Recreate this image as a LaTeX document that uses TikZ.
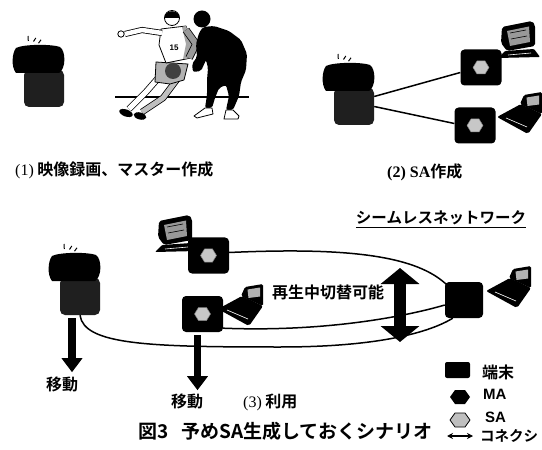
\documentclass[tikz,border=0pt]{standalone}
\usepackage{fontspec}
\newfontfamily\jp{Noto Sans CJK JP}[BoldFont={Noto Sans CJK JP Bold}]
\newfontfamily\tms{Liberation Serif}
\newfontfamily\arl{Liberation Sans}
\usetikzlibrary{arrows.meta,calc}
\pgfdeclarelayer{background}
\pgfsetlayers{background,main}

\tikzset{
  jplbl/.style={font=\jp\bfseries\fontsize{16bp}{18bp}\selectfont, inner sep=0pt},
  netlbl/.style={font=\jp\bfseries\fontsize{15.5bp}{17bp}\selectfont, inner sep=0pt},
  keylbl/.style={font=\jp\bfseries\fontsize{14.5bp}{16bp}\selectfont, inner sep=0pt},
  captionlbl/.style={font=\jp\bfseries\fontsize{19bp}{21bp}\selectfont, inner sep=0pt},
  latinlbl/.style={font=\arl\bfseries\fontsize{15bp}{17bp}\selectfont, inner sep=0pt},
  conn/.style={line width=1.5bp},
  term/.style={fill=black, rounded corners=4bp, minimum width=41bp, minimum height=36bp, inner sep=0pt},
  devbody/.style={fill=black!88, rounded corners=5bp, minimum width=40bp, minimum height=37bp, inner sep=0pt},
  movearr/.style={line width=7.5bp, line cap=butt, -{Triangle[width=20bp,length=14bp]}},
  swarr/.style={line width=12bp, line cap=butt, {Triangle[width=38bp,length=16bp]}-{Triangle[width=38bp,length=16bp]}},
  % stand-alone recorder: black head on a dark body
  camdev/.pic={
    \node[devbody] (-body) at (32,43.5) {};
    \fill[black] (4,3) .. controls (0,8) and (-1,22) .. (4,28) -- (14,28) -- (47,28)
       .. controls (54,24) and (54,6) .. (48,2) .. controls (40,-1) and (12,-1) .. cycle;
    \draw[line width=1bp] (16,-9) -- (16.3,-4) (21.5,-3.5) -- (23.8,-7) (26.5,-1.8) -- (29,-5.2);
  },
  % stream agent marker
  sahex/.pic={
    \filldraw[fill=black!22, draw=black!50, line width=0.5bp]
      (-8,0) -- (-4,-6.5) -- (4,-6.5) -- (8,0) -- (4,6.5) -- (-4,6.5) -- cycle;
  },
  % desktop computer
  desktop/.pic={
    \fill[black, rounded corners=2bp] (4,6) -- (34,0) -- (37,4) -- (37,25) -- (9,30) -- (3,22) -- cycle;
    \fill[black!40] (9,10) -- (31,5.5) -- (32,21) -- (12,25) -- cycle;
    \draw[black, line width=0.6bp] (12,12) -- (28,9) (13,18) -- (29,15);
    \fill[black, rounded corners=1bp] (0,37) -- (7,30) -- (36,28) -- (42,36) -- cycle;
    \draw[white, line width=0.6bp] (10,34) -- (33,32);
  },
  % notebook computer
  laptop/.pic={
    \fill[black, rounded corners=1.5bp] (23,11) -- (27,2) -- (45,-1) -- (45,21) -- cycle;
    \fill[black!30] (29.5,4.5) -- (42,2.5) -- (42,11.5) -- (30.5,13) -- cycle;
    \fill[black, rounded corners=2bp] (0,24) -- (24,11) -- (45,21) -- (31,41) -- cycle;
    \draw[white, line width=0.6bp] (9,25) -- (30,34);
  },
}

\begin{document}
\begin{tikzpicture}[x=1bp, y=-1bp, line join=round]
\useasboundingbox (0,0) rectangle (542,450);
\begin{pgfonlayer}{background}
  \fill[white] (0,0) rectangle (542,450);
\end{pgfonlayer}

% ---------- (1) recording ----------
\pic (dev1) at (12,45) {camdev};

% court line
\draw[line width=1.3bp] (115,97) -- (249,97);
% dribbling player
\draw[double=white, double distance=5bp, line width=0.8bp] (160,76) -- (146,92) -- (129,109);
\draw[double=black!25, double distance=5bp, line width=0.8bp] (178,78) -- (163,98) -- (142,112);
\fill[rotate around={-20:(126,113)}] (126,113) ellipse (7 and 3.5);
\fill[rotate around={-15:(140,116)}] (140,116) ellipse (6.5 and 3.5);
\filldraw[fill=black!30, line width=0.8bp] (156,62) -- (188,64) -- (184,80) -- (170,84) -- (155,82) -- cycle;
\fill[black!75] (173,71) circle (8);
\filldraw[fill=white, line width=0.8bp] (161,29) -- (186,26) -- (192,42) -- (191,58) -- (166,63) -- (159,45) -- cycle;
\fill[black!35] (182,27) -- (186,26) -- (192,42) -- (191,58) -- (183,59) -- (186,44) -- cycle;
\draw[double=black!40, double distance=6bp, line width=0.8bp] (186,30) -- (196,44) -- (189,58);
\draw[double=white, double distance=4.5bp, line width=0.8bp] (162,33) -- (142,30) -- (125,34);
\filldraw[fill=white, line width=0.8bp] (121,34) circle (3.2);
\filldraw[fill=white, line width=0.8bp] (172,18) circle (7.5);
\fill (164.5,18) .. controls (164,9) and (180,9) .. (179.5,18) -- cycle;
\node[font=\arl\bfseries\fontsize{8bp}{8bp}\selectfont, inner sep=0pt] (jersey) at (174,48) {15};
% defending player
\fill[black, rounded corners=2bp] (203,27) -- (214,26) -- (229,31) -- (241,40) -- (247,54) -- (246,70)
  -- (241,82) -- (239,96) -- (233,110) -- (226,110) -- (229,96) -- (226,85) -- (219,88) -- (215,98)
  -- (212,108) -- (205,108) -- (207,95) -- (207,80) -- (208,68) -- (206,60) -- (201,71) -- (193,72)
  -- (192,64) -- (197,57) -- (196,44) -- (199,33) -- cycle;
\fill (202,19) circle (8.5);
\filldraw[fill=white, line width=0.8bp] (205,108) -- (212,108) -- (213,114) -- (197,118) -- (194,116) -- cycle;
\filldraw[fill=white, line width=0.8bp] (226,110) -- (233,110) -- (239,116) -- (238,119) -- (224,119) -- cycle;

\node[jplbl, anchor=west] (step1) at (15,170) {{\tms\mdseries (1)} 映像録画、マスター作成};

% ---------- (2) SA creation ----------
\pic (dev2) at (322,63) {camdev};
\pic at (498,21) {desktop};
\pic at (497,93) {laptop};
\node[term] (t2a) at (481,67.5) {};
\node[term] (t2b) at (475,125.5) {};
\pic at (t2a) {sahex};
\pic at (t2b) {sahex};
\begin{pgfonlayer}{background}
  \draw[conn] ([yshift=10bp]dev2-body.east) -- ([yshift=-5bp]t2a.west);
  \draw[conn] (dev2-body.east) -- ([yshift=2bp]t2b.west);
\end{pgfonlayer}
\node[jplbl, anchor=west] (step2) at (387,172) {{\tms (2) SA}作成};

% ---------- (3) use ----------
\node[netlbl] (net) at (441,218) {シームレスネットワーク};
\draw[line width=1bp] ([yshift=-2bp]net.south west) -- ([yshift=-2bp]net.south east);

\pic (dev3) at (48,253) {camdev};
\pic at (155,215) {desktop};
\pic at (218,285) {laptop};
\pic at (486,267) {laptop};
\node[term] (t3a) at (208.5,255.5) {};
\node[term] (t3b) at (202.5,314) {};
\node[term, minimum width=38bp] (t3c) at (464,300) {};
\pic at (t3a) {sahex};
\pic at (t3b) {sahex};

\begin{pgfonlayer}{background}
  \draw[conn] ([yshift=3bp]t3a.east) .. controls (350,247) and (418,256) .. ([xshift=3bp,yshift=-4bp]t3c.north west);
  \draw[conn] ([yshift=4bp]t3b.south east) .. controls (320,332) and (400,318) .. ([yshift=-5bp]t3c.west);
  \draw[conn] (dev3-body.south) .. controls (84,345) and (150,347) .. (280,347)
     .. controls (380,347) and (430,332) .. ([xshift=8bp]t3c.south west);
\end{pgfonlayer}

\coordinate (swtop) at (400,268);
\coordinate (swbot) at (400,342);
\draw[swarr] (swtop) -- (swbot);
\node[jplbl, anchor=west] (switch) at (272,292) {再生中切替可能};

\node[jplbl] (mv1) at (62,384) {移動};
\node[jplbl] (mv2) at (187,401) {移動};
\draw[movearr] ([xshift=-8bp,yshift=-3bp]dev3-body.south) coordinate (m1) -- ([yshift=4bp]m1 |- mv1.north);
\draw[movearr] ([xshift=-5bp,yshift=-3bp]t3b.south) coordinate (m2) -- ([yshift=3bp]m2 |- mv2.north);

\node[jplbl, anchor=west] (step3) at (243,402) {{\tms\mdseries (3)} 利用};

% ---------- caption ----------
\node[captionlbl, anchor=west] (caption) at (138,431) {図3\hspace{13bp}予めSA生成しておくシナリオ};

% ---------- legend ----------
\node[fill=black, rounded corners=2bp, minimum width=25bp, minimum height=16bp, inner sep=0pt] (lgterm) at (457.5,370) {};
\fill (450,397) -- (455,390) -- (465,390) -- (470,397) -- (465,404) -- (455,404) -- cycle;
\filldraw[fill=black!25, line width=0.8bp] (450,420) -- (455,413) -- (465,413) -- (470,420) -- (465,427) -- (455,427) -- cycle;
\coordinate (lgl) at (447,436);
\coordinate (lgr) at (473,436);
\draw[line width=1.5bp, {Stealth[length=6bp,width=6bp]}-{Stealth[length=6bp,width=6bp]}] (lgl) -- (lgr);
\node[jplbl, anchor=west] (lgt1) at (482,372) {端末};
\node[latinlbl, anchor=west] (lgt2) at (483,394) {MA};
\node[latinlbl, anchor=west] (lgt3) at (485,417) {SA};
\node[keylbl, anchor=west] (lgt4) at (480,436) {コネクシ};
\end{tikzpicture}
\end{document}
